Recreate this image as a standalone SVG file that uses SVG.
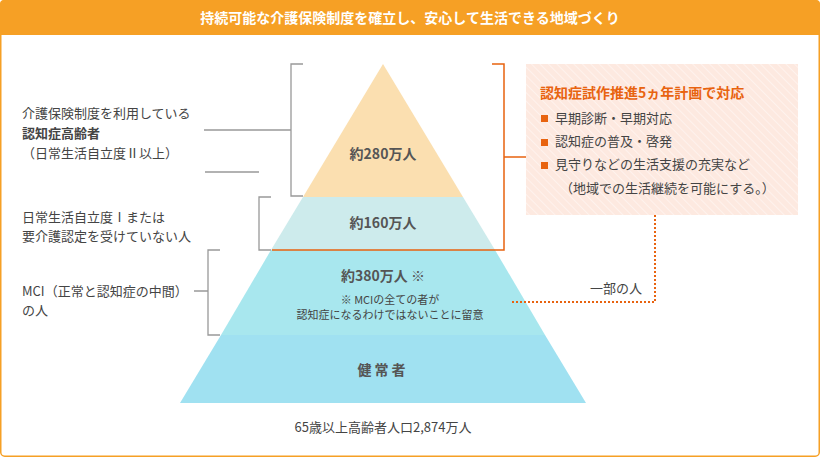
<svg xmlns="http://www.w3.org/2000/svg" width="820" height="457" viewBox="0 0 820 457">
<style>
text{font-family:"Noto Sans CJK JP","Liberation Sans",sans-serif;fill:#444}
.g{stroke:#999;stroke-width:1.3;fill:none}
.o{stroke:#E8630F;stroke-width:1.5;fill:none}
.lbl{font-size:13px}
.big{font-size:14px;font-weight:bold;fill:#555}
</style>
<defs>
<pattern id="hatch" width="6" height="6" patternUnits="userSpaceOnUse" patternTransform="rotate(-45)">
<rect width="6" height="6" fill="#FDE9E0"/>
<line x1="0" y1="0" x2="0" y2="6" stroke="#FFF6F2" stroke-width="1.5"/>
</pattern>
</defs>
<rect x="0.75" y="0.75" width="818.5" height="455.5" rx="4" fill="#fff" stroke="#F6A025" stroke-width="1.5"/>
<path d="M0,4 Q0,0 4,0 H816 Q820,0 820,4 V35 H0 Z" fill="#F6A025"/>
<text x="410" y="23" text-anchor="middle" style="fill:#fff;font-size:14px;font-weight:bold">持続可能な介護保険制度を確立し、安心して生活できる地域づくり</text>
<g id="pyramid">
<polygon points="383,64 463,197 303,197" fill="#FBDFB0"/>
<polygon points="303,197 463,197 495,250 271,250" fill="#CDEBEC"/>
<polygon points="271,250 495,250 545,335 221,335" fill="#A8E7EE"/>
<polygon points="221,335 545,335 586,403 180,403" fill="#A0E1F1"/>
<text x="383" y="159" text-anchor="middle" class="big">約280万人</text>
<text x="383" y="228" text-anchor="middle" class="big">約160万人</text>
<text x="383" y="281" text-anchor="middle" class="big">約380万人 ※</text>
<text x="390" y="304" text-anchor="middle" style="font-size:11px">※ MCIの全ての者が</text>
<text x="390" y="319" text-anchor="middle" style="font-size:11px">認知症になるわけではないことに留意</text>
<text x="383" y="375" text-anchor="middle" class="big" style="letter-spacing:3px">健常者</text>
<text x="383" y="432" text-anchor="middle" class="lbl">65歳以上高齢者人口2,874万人</text>
</g>
<g id="labels">
<text x="22" y="118" class="lbl">介護保険制度を利用している</text>
<text x="22" y="138" class="lbl" style="font-weight:bold">認知症高齢者</text>
<text x="22" y="158" class="lbl">（日常生活自立度Ⅱ以上）</text>
<text x="22" y="222" class="lbl">日常生活自立度Ⅰまたは</text>
<text x="22" y="241" class="lbl">要介護認定を受けていない人</text>
<text x="22" y="296" class="lbl">MCI（正常と認知症の中間）</text>
<text x="22" y="315" class="lbl">の人</text>
</g>
<g id="plan">
<rect x="526" y="64" width="272" height="151" fill="url(#hatch)"/>
<text x="540" y="98" style="font-size:14px;font-weight:bold;fill:#E8630F">認知症試作推進5ヵ年計画で対応</text>
<rect x="541" y="115" width="7" height="7" fill="#E8630F"/>
<rect x="541" y="139" width="7" height="7" fill="#E8630F"/>
<rect x="541" y="162" width="7" height="7" fill="#E8630F"/>
<text x="555" y="123" class="lbl">早期診断・早期対応</text>
<text x="555" y="146" class="lbl">認知症の普及・啓発</text>
<text x="555" y="169" class="lbl">見守りなどの生活支援の充実など</text>
<text x="560" y="193" class="lbl">（地域での生活継続を可能にする。）</text>
<text x="590" y="293" class="lbl">一部の人</text>
</g>
<g id="connectors">
<path class="g" d="M303,64 H291 V196 H303 M204,130 H291"/>
<path class="g" d="M271,197 H259 V250 H271 M205,172 H259"/>
<path class="g" d="M220,250 H208 V335 H220 M194,291 H208"/>
<path class="o" d="M492,64 H504 V250 H272 M504,157 H526"/>
<path d="M655,215 V302 H512" fill="none" stroke="#E8630F" stroke-width="2" stroke-dasharray="2,2"/>
</g>
</svg>
